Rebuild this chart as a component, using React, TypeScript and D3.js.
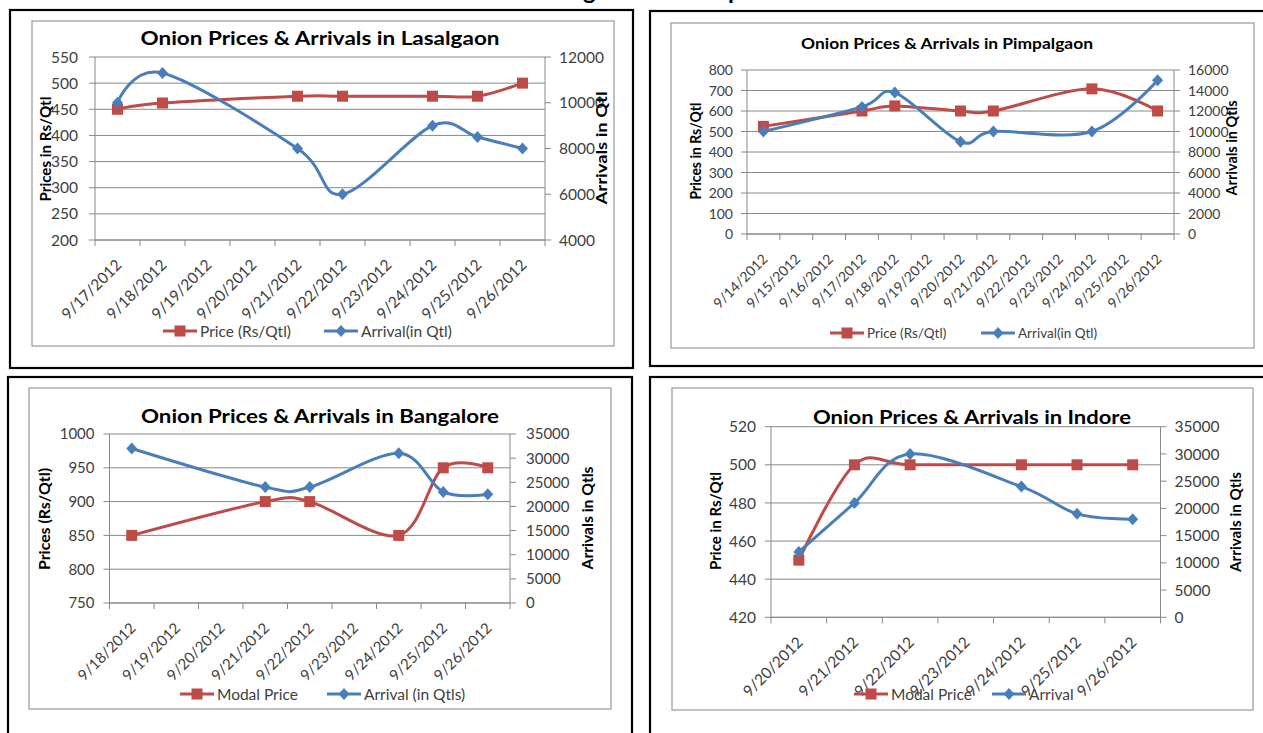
import React, { useEffect, useRef } from "react";
import * as d3 from "d3";

// Lasalgaon
const lasalgaonDates = ["9/17/2012", "9/18/2012", "9/19/2012", "9/20/2012", "9/21/2012", "9/22/2012", "9/23/2012", "9/24/2012", "9/25/2012", "9/26/2012"];
const lasalgaonPrice = [450, 462, null, null, 475, 475, null, 475, 475, 500];
const lasalgaonArrival = [10000, 11300, null, null, 8000, 6000, null, 9000, 8500, 8000];
const lasalgaonPriceTicks = [200, 250, 300, 350, 400, 450, 500, 550];
const lasalgaonArrivalTicks = [4000, 6000, 8000, 10000, 12000];

// Pimpalgaon
const pimpalgaonDates = ["9/14/2012", "9/15/2012", "9/16/2012", "9/17/2012", "9/18/2012", "9/19/2012", "9/20/2012", "9/21/2012", "9/22/2012", "9/23/2012", "9/24/2012", "9/25/2012", "9/26/2012"];
const pimpalgaonPrice = [525, null, null, 600, 625, null, 600, 600, null, null, 708, null, 600];
const pimpalgaonArrival = [10000, null, null, 12400, 13800, null, 9000, 10000, null, null, 10000, null, 15000];
const pimpalgaonPriceTicks = [0, 100, 200, 300, 400, 500, 600, 700, 800];
const pimpalgaonArrivalTicks = [0, 2000, 4000, 6000, 8000, 10000, 12000, 14000, 16000];

// Bangalore
const bangaloreDates = ["9/18/2012", "9/19/2012", "9/20/2012", "9/21/2012", "9/22/2012", "9/23/2012", "9/24/2012", "9/25/2012", "9/26/2012"];
const bangalorePrice = [850, null, null, 900, 900, null, 850, 950, 950];
const bangaloreArrival = [32000, null, null, 24000, 24000, null, 31000, 23000, 22500];
const bangalorePriceTicks = [750, 800, 850, 900, 950, 1000];
const bangaloreArrivalTicks = [0, 5000, 10000, 15000, 20000, 25000, 30000, 35000];

// Indore
const indoreDates = ["9/20/2012", "9/21/2012", "9/22/2012", "9/23/2012", "9/24/2012", "9/25/2012", "9/26/2012"];
const indorePrice = [450, 500, 500, null, 500, 500, 500];
const indoreArrival = [12000, 21000, 30000, null, 24000, 19000, 18000];
const indorePriceTicks = [420, 440, 460, 480, 500, 520];
const indoreArrivalTicks = [0, 5000, 10000, 15000, 20000, 25000, 30000, 35000];

const RED = "#BE4B48";
const BLUE = "#4A7EBB";
const GRID = "#888888";
const LABEL = "#404040";
const FONT = "Lato, 'Open Sans', sans-serif";

type Val = number | null;

interface Panel {
  outer: number[];
  inner: number[];
  plot: { left: number; right: number; top: number; bottom: number };
  title: string;
  titleX: number;
  titleY: number;
  titleSize: number;
  titleLen: number;
  dates: string[];
  price: Val[];
  arrival: Val[];
  priceTicks: number[];
  arrivalTicks: number[];
  fontSize: number;
  leftPad: number;
  rightPad: number;
  leftTitle: string;
  leftTitlePos: number[];
  rightTitle: string;
  rightTitlePos: number[];
  legendY: number;
  priceLegendX: number;
  arrivalLegendX: number;
  priceLabel: string;
  arrivalLabel: string;
  legendSize: number;
}

const panels: Panel[] = [
  {
    outer: [10, 10, 623, 358],
    inner: [32, 21, 582, 325],
    plot: { left: 95, right: 545, top: 57, bottom: 240 },
    title: "Onion Prices & Arrivals in Lasalgaon",
    titleX: 320, titleY: 45, titleSize: 19, titleLen: 359,
    dates: lasalgaonDates, price: lasalgaonPrice, arrival: lasalgaonArrival,
    priceTicks: lasalgaonPriceTicks, arrivalTicks: lasalgaonArrivalTicks,
    fontSize: 15.5, leftPad: 11, rightPad: 8,
    leftTitle: "Prices in Rs/Qtl", leftTitlePos: [46, 149, 105],
    rightTitle: "Arrivals in Qtl", rightTitlePos: [602, 148, 113],
    legendY: 331, priceLegendX: 163, arrivalLegendX: 324,
    priceLabel: "Price (Rs/Qtl)", arrivalLabel: "Arrival(in Qtl)", legendSize: 15.5,
  },
  {
    outer: [650, 11, 640, 355],
    inner: [671, 23, 583, 325],
    plot: { left: 747, right: 1174, top: 70, bottom: 234 },
    title: "Onion Prices & Arrivals in Pimpalgaon",
    titleX: 947, titleY: 49, titleSize: 15.5, titleLen: 292,
    dates: pimpalgaonDates, price: pimpalgaonPrice, arrival: pimpalgaonArrival,
    priceTicks: pimpalgaonPriceTicks, arrivalTicks: pimpalgaonArrivalTicks,
    fontSize: 14, leftPad: 8, rightPad: 8,
    leftTitle: "Prices in Rs/Qtl", leftTitlePos: [696, 151, 97],
    rightTitle: "Arrivals in Qtls", rightTitlePos: [1232, 148, 95],
    legendY: 333, priceLegendX: 830, arrivalLegendX: 981,
    priceLabel: "Price (Rs/Qtl)", arrivalLabel: "Arrival(in Qtl)", legendSize: 13.5,
  },
  {
    outer: [8, 377, 624, 400],
    inner: [29, 388, 582, 321],
    plot: { left: 109.5, right: 510, top: 434, bottom: 603 },
    title: "Onion Prices & Arrivals in Bangalore",
    titleX: 320, titleY: 423, titleSize: 19, titleLen: 358,
    dates: bangaloreDates, price: bangalorePrice, arrival: bangaloreArrival,
    priceTicks: bangalorePriceTicks, arrivalTicks: bangaloreArrivalTicks,
    fontSize: 15, leftPad: 9, rightPad: 10,
    leftTitle: "Prices (Rs/Qtl)", leftTitlePos: [45, 519, 102],
    rightTitle: "Arrivals in Qtls", rightTitlePos: [588, 518, 103],
    legendY: 694, priceLegendX: 180, arrivalLegendX: 327,
    priceLabel: "Modal Price", arrivalLabel: "Arrival (in Qtls)", legendSize: 15.5,
  },
  {
    outer: [650, 377, 640, 400],
    inner: [672, 388, 581, 322],
    plot: { left: 771, right: 1160.5, top: 426.7, bottom: 617.3 },
    title: "Onion Prices & Arrivals in Indore",
    titleX: 972, titleY: 424, titleSize: 19, titleLen: 318,
    dates: indoreDates, price: indorePrice, arrival: indoreArrival,
    priceTicks: indorePriceTicks, arrivalTicks: indoreArrivalTicks,
    fontSize: 15.5, leftPad: 9, rightPad: 8,
    leftTitle: "Price in Rs/Qtl", leftTitlePos: [715.5, 521, 98],
    rightTitle: "Arrivals in Qtls", rightTitlePos: [1236, 522, 100],
    legendY: 694, priceLegendX: 854, arrivalLegendX: 992,
    priceLabel: "Modal Price", arrivalLabel: "Arrival", legendSize: 15.5,
  },
];

const square = (g: d3.Selection<SVGGElement, unknown, null, undefined>, cx: number, cy: number) =>
  g.append("rect")
    .attr("x", cx - 5.5)
    .attr("y", cy - 5.5)
    .attr("width", 11)
    .attr("height", 11)
    .attr("fill", RED);

const diamond = (g: d3.Selection<SVGGElement, unknown, null, undefined>, cx: number, cy: number) =>
  g.append("path")
    .attr("d", `M${cx},${cy - 6}L${cx + 5.5},${cy}L${cx},${cy + 6}L${cx - 5.5},${cy}Z`)
    .attr("fill", BLUE);

const drawPanel = (svg: d3.Selection<SVGSVGElement, unknown, null, undefined>, p: Panel) => {
  const g = svg.append("g").style("font-family", FONT);
  const { left, right, top, bottom } = p.plot;

  g.append("rect")
    .attr("x", p.outer[0]).attr("y", p.outer[1])
    .attr("width", p.outer[2]).attr("height", p.outer[3])
    .attr("fill", "#fff").attr("stroke", "#000").attr("stroke-width", 2.2);

  g.append("rect")
    .attr("x", p.inner[0]).attr("y", p.inner[1])
    .attr("width", p.inner[2]).attr("height", p.inner[3])
    .attr("fill", "#fff").attr("stroke", "#a0a0a0").attr("stroke-width", 1.3);

  const x = d3.scaleBand().domain(p.dates).range([left, right]);
  const yP = d3.scaleLinear()
    .domain([p.priceTicks[0], p.priceTicks[p.priceTicks.length - 1]])
    .range([bottom, top]);
  const yA = d3.scaleLinear()
    .domain([p.arrivalTicks[0], p.arrivalTicks[p.arrivalTicks.length - 1]])
    .range([bottom, top]);
  const cx = (d: string) => (x(d) || 0) + x.bandwidth() / 2;

  // gridlines (primary axis)
  g.selectAll(".grid")
    .data(p.priceTicks)
    .enter()
    .append("line")
    .attr("x1", left - 6).attr("x2", right)
    .attr("y1", d => yP(d)).attr("y2", d => yP(d))
    .attr("stroke", GRID).attr("stroke-width", 1);

  // right axis ticks
  g.selectAll(".rtick")
    .data(p.arrivalTicks)
    .enter()
    .append("line")
    .attr("x1", right).attr("x2", right + 6)
    .attr("y1", d => yA(d)).attr("y2", d => yA(d))
    .attr("stroke", GRID);

  // axis lines
  g.append("line").attr("x1", left).attr("x2", left).attr("y1", top).attr("y2", bottom).attr("stroke", GRID);
  g.append("line").attr("x1", right).attr("x2", right).attr("y1", top).attr("y2", bottom).attr("stroke", GRID);
  g.append("line").attr("x1", left).attr("x2", right).attr("y1", bottom).attr("y2", bottom).attr("stroke", GRID);

  // category ticks at band edges
  const edges = p.dates.map(d => x(d) || 0).concat([right]);
  g.selectAll(".xtick")
    .data(edges)
    .enter()
    .append("line")
    .attr("x1", d => d).attr("x2", d => d)
    .attr("y1", bottom).attr("y2", bottom + 6)
    .attr("stroke", GRID);

  g.selectAll(".ylabel")
    .data(p.priceTicks)
    .enter()
    .append("text")
    .attr("x", left - 6 - p.leftPad)
    .attr("y", d => yP(d))
    .attr("dy", "0.36em")
    .attr("text-anchor", "end")
    .style("font-size", `${p.fontSize}px`)
    .style("fill", LABEL)
    .text(d => String(d));

  g.selectAll(".y2label")
    .data(p.arrivalTicks)
    .enter()
    .append("text")
    .attr("x", right + 6 + p.rightPad)
    .attr("y", d => yA(d))
    .attr("dy", "0.36em")
    .style("font-size", `${p.fontSize}px`)
    .style("fill", LABEL)
    .text(d => String(d));

  g.selectAll(".xlabel")
    .data(p.dates)
    .enter()
    .append("text")
    .attr("transform", d => `translate(${cx(d) + 5},${bottom + 26})rotate(-45)`)
    .attr("text-anchor", "end")
    .style("font-size", `${p.fontSize}px`)
    .style("fill", LABEL)
    .text(d => d);

  // titles
  g.append("text")
    .attr("x", p.titleX)
    .attr("y", p.titleY)
    .attr("text-anchor", "middle")
    .attr("textLength", p.titleLen)
    .attr("lengthAdjust", "spacingAndGlyphs")
    .style("font-size", `${p.titleSize}px`)
    .style("font-weight", "bold")
    .style("fill", "#000")
    .text(p.title);

  [[p.leftTitle, p.leftTitlePos], [p.rightTitle, p.rightTitlePos]].forEach(([label, pos]) => {
    const [tx, ty, len] = pos as number[];
    g.append("text")
      .attr("transform", `translate(${tx},${ty})rotate(-90)`)
      .attr("text-anchor", "middle")
      .attr("dy", "0.36em")
      .attr("textLength", len)
      .attr("lengthAdjust", "spacingAndGlyphs")
      .style("font-size", "15px")
      .style("font-weight", "bold")
      .style("fill", "#000")
      .text(label as string);
  });

  // series
  const line = d3.line<[number, number]>()
    .x(d => d[0])
    .y(d => d[1])
    .curve(d3.curveCardinal.tension(0));

  const pricePts = p.dates
    .map((d, i) => [d, p.price[i]] as [string, Val])
    .filter(d => d[1] !== null)
    .map(d => [cx(d[0]), yP(d[1] as number)] as [number, number]);
  const arrivalPts = p.dates
    .map((d, i) => [d, p.arrival[i]] as [string, Val])
    .filter(d => d[1] !== null)
    .map(d => [cx(d[0]), yA(d[1] as number)] as [number, number]);

  const series = g.append("g");
  series.append("path")
    .datum(pricePts)
    .attr("d", line)
    .attr("fill", "none")
    .attr("stroke", RED)
    .attr("stroke-width", 3);
  pricePts.forEach(pt => square(series, pt[0], pt[1]));

  series.append("path")
    .datum(arrivalPts)
    .attr("d", line)
    .attr("fill", "none")
    .attr("stroke", BLUE)
    .attr("stroke-width", 3);
  arrivalPts.forEach(pt => diamond(series, pt[0], pt[1]));

  // legend
  const legend = g.append("g");
  const items: [number, string, string][] = [
    [p.priceLegendX, RED, p.priceLabel],
    [p.arrivalLegendX, BLUE, p.arrivalLabel],
  ];
  items.forEach(([lx, color, label], i) => {
    legend.append("line")
      .attr("x1", lx).attr("x2", lx + 34)
      .attr("y1", p.legendY).attr("y2", p.legendY)
      .attr("stroke", color).attr("stroke-width", 3);
    if (i === 0) square(legend, lx + 17, p.legendY);
    else diamond(legend, lx + 17, p.legendY);
    legend.append("text")
      .attr("x", lx + 37)
      .attr("y", p.legendY)
      .attr("dy", "0.36em")
      .style("font-size", `${p.legendSize}px`)
      .style("fill", LABEL)
      .text(label);
  });
};

const App = () => {
  const svgRef = useRef<SVGSVGElement>(null);

  useEffect(() => {
    if (!svgRef.current) return;
    const svg = d3.select(svgRef.current);
    svg.selectAll("*").remove();

    svg.append("rect").attr("width", 1263).attr("height", 733).attr("fill", "#fff");

    // bottom of a page heading cut off above the charts
    svg.append("text")
      .attr("x", 583).attr("y", -1)
      .style("font-family", FONT).style("font-size", "24px").style("font-weight", "bold")
      .text("g");
    svg.append("text")
      .attr("x", 728).attr("y", -1)
      .style("font-family", FONT).style("font-size", "24px").style("font-weight", "bold")
      .text("p");

    panels.forEach(p => drawPanel(svg, p));
  }, []);

  return (
    <svg
      ref={svgRef}
      width={1263}
      height={733}
      style={{ position: "absolute", left: 0, top: 0, display: "block" }}
    />
  );
};

export default App;
